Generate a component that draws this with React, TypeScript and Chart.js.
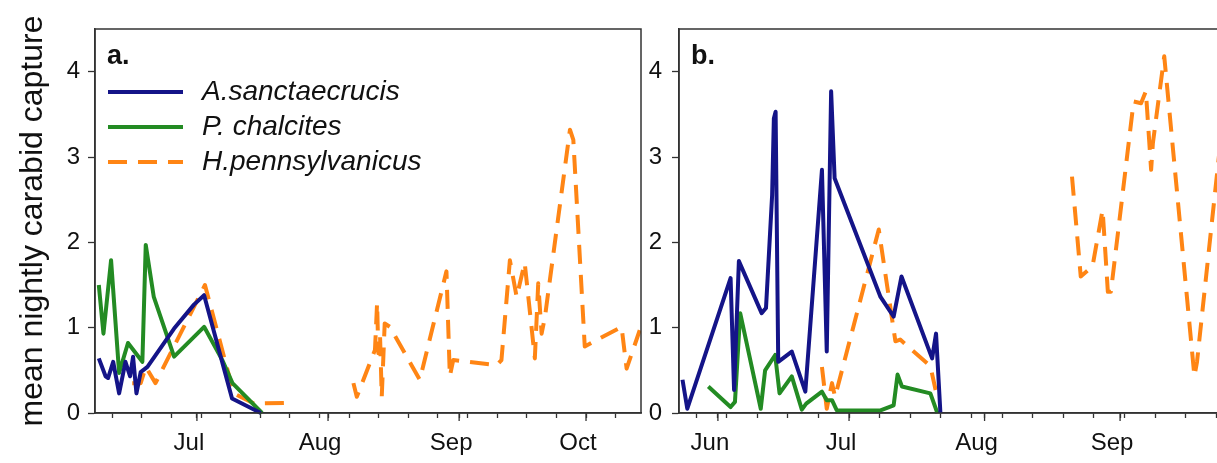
import React, { useEffect, useRef } from "react";
import { Chart, registerables } from "chart.js";

Chart.register(...registerables);

// x values are day numbers counted from 1 June (= 0)
const seriesNames = ["A.sanctaecrucis", "P. chalcites", "H.pennsylvanicus"];
const seriesColors = ["#141488", "#238b23", "#ff8514"];
const yTitle = "mean nightly carabid capture";
const yTickValues = [0, 1, 2, 3, 4];

// ---- panel a ----
const aMonthLabels = ["Jul", "Aug", "Sep", "Oct"];
const aMonthDays = [30, 61, 92, 122];
const aWeekDays = [10, 17, 24, 31, 38, 45, 52, 59, 66, 73, 80, 87, 94, 101, 108, 115, 122, 129];

const aBlueDays = [6.8, 8.4, 9.0, 10.2, 11.6, 13.1, 14.2, 14.9, 15.7, 16.7, 18.3, 24.6, 29.3, 31.7, 38.3, 45.1];
const aBlueVals = [0.64, 0.43, 0.41, 0.6, 0.23, 0.6, 0.43, 0.66, 0.23, 0.48, 0.54, 0.99, 1.27, 1.38, 0.17, 0.0];

const aGreenDays = [6.8, 7.9, 9.7, 11.6, 13.7, 17.1, 17.9, 19.8, 24.6, 31.7, 36.0, 38.4, 45.4];
const aGreenVals = [1.5, 0.93, 1.79, 0.47, 0.82, 0.6, 1.97, 1.36, 0.66, 1.01, 0.62, 0.35, 0.0];

const aOrangeDays = [14.7, 16.7, 17.9, 20.2, 31.9, 38.7, 43.5, 52.5, 60, 67.0, 67.8, 72.1, 72.6, 72.9, 73.3, 73.7, 74.4, 75.6, 82.7, 89.0, 89.8, 90.6, 100.9, 102.0, 104.0, 105.6, 107.5, 109.9, 110.7, 111.5, 112.3, 118.2, 119.0, 121.7, 130.4, 131.6, 134.7];
const aOrangeVals = [0.35, 0.35, 0.54, 0.35, 1.5, 0.23, 0.11, 0.12, null, 0.35, 0.19, 0.74, 1.29, 0.7, 0.9, 0.19, 1.05, 1.01, 0.39, 1.66, 0.43, 0.62, 0.56, 0.62, 1.79, 1.36, 1.76, 0.64, 1.52, 0.93, 1.13, 3.32, 3.2, 0.78, 1.01, 0.52, 0.97];

// ---- panel b ----
const bMonthLabels = ["Jun", "Jul", "Aug", "Sep"];
const bMonthDays = [0, 30, 61, 92];
const bWeekDays = [-5, 2, 9, 16, 23, 30, 37, 44, 51, 58, 65, 72, 79, 86, 93, 100, 107, 114];

const bBlueDays = [-8.1, -7.0, 2.9, 3.7, 4.8, 10.0, 11.0, 12.4, 12.8, 13.2, 13.8, 16.9, 20.0, 23.8, 24.9, 25.9, 26.7, 37.2, 40.2, 42.0, 49.0, 49.9, 50.9];
const bBlueVals = [0.39, 0.05, 1.58, 0.27, 1.78, 1.17, 1.23, 2.55, 3.45, 3.53, 0.6, 0.72, 0.25, 2.85, 0.72, 3.77, 2.75, 1.36, 1.13, 1.6, 0.64, 0.93, 0.0];

const bGreenDays = [-2.2, 2.9, 3.9, 5.1, 9.8, 10.8, 13.1, 14.1, 16.9, 19.2, 20.2, 23.8, 24.9, 26.1, 27.2, 37.2, 40.2, 41.1, 42.1, 48.6, 50.2];
const bGreenVals = [0.31, 0.07, 0.13, 1.17, 0.05, 0.5, 0.68, 0.23, 0.43, 0.04, 0.11, 0.25, 0.15, 0.15, 0.03, 0.03, 0.09, 0.45, 0.31, 0.23, 0.0];

const bOrangeDays = [23.8, 24.9, 26.1, 26.8, 36.8, 40.6, 41.7, 48.6, 49.8, 65, 81.0, 83.0, 85.7, 88.0, 88.4, 89.2, 89.9, 95.1, 96.8, 97.9, 99.1, 99.5, 102.1, 109.0, 109.6, 114.9];
const bOrangeVals = [0.54, 0.05, 0.35, 0.19, 2.15, 0.84, 0.86, 0.55, 0.27, null, 2.77, 1.6, 1.72, 2.38, 2.07, 1.42, 1.42, 3.65, 3.63, 3.77, 2.85, 3.16, 4.18, 0.43, 0.6, 3.15];

const FONT = '"Liberation Sans", Arial, Helvetica, sans-serif';
const FRAME = "#333333";
const TEXT = "#111111";

function pts(days: number[], vals: (number | null)[]) {
  return days.map((d, i) => ({ x: d, y: vals[i] }));
}

function makeDatasets(blue: any[], green: any[], orange: any[]) {
  const base = {
    pointRadius: 0,
    borderWidth: 4,
    tension: 0,
    spanGaps: false,
    borderJoinStyle: "round" as const,
    clip: { left: 0, top: 0, right: 0, bottom: 6 },
  };
  return [
    { ...base, label: seriesNames[0], data: blue, borderColor: seriesColors[0], backgroundColor: seriesColors[0] },
    { ...base, label: seriesNames[1], data: green, borderColor: seriesColors[1], backgroundColor: seriesColors[1] },
    { ...base, label: seriesNames[2], data: orange, borderColor: seriesColors[2], backgroundColor: seriesColors[2], borderDash: [19, 11] },
  ];
}

const framePlugin = {
  id: "frame",
  afterDraw(chart: any, _args: any, opts: any) {
    const { ctx, chartArea } = chart;
    ctx.save();
    ctx.strokeStyle = FRAME;
    ctx.lineWidth = 1.5;
    ctx.strokeRect(chartArea.left, chartArea.top, chartArea.right - chartArea.left, chartArea.bottom - chartArea.top);
    // longer tick marks at month starts
    const xs = chart.scales.x;
    const days: number[] = (opts && opts.majorDays) || [];
    ctx.lineWidth = 1.3;
    days.forEach((d) => {
      const px = xs.getPixelForValue(d);
      ctx.beginPath();
      ctx.moveTo(px, chartArea.bottom);
      ctx.lineTo(px, chartArea.bottom + 8);
      ctx.stroke();
    });
    ctx.restore();
  },
};

const panelLabelPlugin = {
  id: "panelLabel",
  afterDraw(chart: any, _args: any, opts: any) {
    if (!opts || !opts.text) return;
    const { ctx, chartArea } = chart;
    ctx.save();
    ctx.fillStyle = TEXT;
    ctx.font = `bold 27px ${FONT}`;
    ctx.textBaseline = "alphabetic";
    ctx.textAlign = "left";
    ctx.fillText(opts.text, chartArea.left + 12, chartArea.top + 35);
    ctx.restore();
  },
};

const legendPlugin = {
  id: "insideLegend",
  afterDraw(chart: any, _args: any, opts: any) {
    if (!opts || !opts.show) return;
    const { ctx, chartArea } = chart;
    chart.data.datasets.forEach((ds: any, i: number) => {
      const y = chartArea.top + 63 + i * 35;
      const x0 = chartArea.left + 13;
      ctx.save();
      ctx.strokeStyle = ds.borderColor;
      ctx.lineWidth = ds.borderWidth;
      ctx.setLineDash(ds.borderDash || []);
      ctx.beginPath();
      ctx.moveTo(x0, y);
      ctx.lineTo(x0 + 75, y);
      ctx.stroke();
      ctx.setLineDash([]);
      ctx.fillStyle = TEXT;
      ctx.font = `italic 28px ${FONT}`;
      ctx.textBaseline = "middle";
      ctx.textAlign = "left";
      ctx.fillText(ds.label, chartArea.left + 107, y);
      ctx.restore();
    });
  },
};

type PanelCfg = {
  datasets: any[];
  min: number;
  max: number;
  weekDays: number[];
  monthDays: number[];
  monthLabels: string[];
  yWidth: number;
  yPad: number;
  padRight: number;
  showTitle: boolean;
  label: string;
  legend: boolean;
};

function makeConfig(cfg: PanelCfg): any {
  const tickSet = Array.from(new Set([...cfg.weekDays, ...cfg.monthDays])).sort((p, q) => p - q);
  return {
    type: "line",
    data: { datasets: cfg.datasets },
    plugins: [framePlugin, panelLabelPlugin, legendPlugin],
    options: {
      animation: false,
      responsive: false,
      maintainAspectRatio: false,
      layout: { padding: { top: 29, right: cfg.padRight, left: 0, bottom: 0 } },
      plugins: {
        legend: { display: false },
        tooltip: { enabled: false },
        panelLabel: { text: cfg.label },
        insideLegend: { show: cfg.legend },
        frame: { majorDays: cfg.monthDays },
      },
      scales: {
        x: {
          type: "linear",
          min: cfg.min,
          max: cfg.max,
          afterBuildTicks: (s: any) => {
            s.ticks = tickSet.map((v) => ({ value: v }));
          },
          afterFit: (s: any) => {
            s.height = 50;
          },
          grid: { drawOnChartArea: false, drawTicks: true, tickLength: 5, tickColor: FRAME, tickWidth: 1.3 },
          border: { display: true, color: FRAME, width: 1.5 },
          ticks: {
            autoSkip: false,
            maxRotation: 0,
            minRotation: 0,
            padding: 11,
            labelOffset: -8,
            color: TEXT,
            font: { family: FONT, size: 24 },
            callback: (v: any) => {
              const k = cfg.monthDays.indexOf(Number(v));
              return k >= 0 ? cfg.monthLabels[k] : "";
            },
          },
        },
        y: {
          type: "linear",
          min: 0,
          max: 4.5,
          afterBuildTicks: (s: any) => {
            s.ticks = yTickValues.map((v) => ({ value: v }));
          },
          afterFit: (s: any) => {
            s.width = cfg.yWidth;
          },
          grid: { drawOnChartArea: false, drawTicks: true, tickLength: 7, tickColor: FRAME, tickWidth: 1.3 },
          border: { display: true, color: FRAME, width: 1.5 },
          ticks: {
            padding: cfg.yPad,
            color: TEXT,
            font: { family: FONT, size: 24 },
            callback: (v: any) => String(v),
          },
          title: {
            display: cfg.showTitle,
            text: yTitle,
            color: TEXT,
            font: { family: FONT, size: 32, lineHeight: 1.2 },
            padding: { top: 14, bottom: 0 },
          },
        },
      },
    },
  };
}

function Panel(props: { cfg: PanelCfg; left: number; width: number }) {
  const ref = useRef<HTMLCanvasElement | null>(null);
  useEffect(() => {
    if (!ref.current) return;
    const chart = new Chart(ref.current, makeConfig(props.cfg));
    return () => chart.destroy();
  }, []);
  return (
    <canvas
      ref={ref}
      width={props.width}
      height={463}
      style={{ position: "absolute", left: props.left, top: 0, width: props.width, height: 463 }}
    />
  );
}

export default function App() {
  const cfgA: PanelCfg = {
    datasets: makeDatasets(pts(aBlueDays, aBlueVals), pts(aGreenDays, aGreenVals), pts(aOrangeDays, aOrangeVals)),
    min: 5.9,
    max: 135,
    weekDays: aWeekDays,
    monthDays: aMonthDays,
    monthLabels: aMonthLabels,
    yWidth: 95,
    yPad: 8,
    padRight: 9,
    showTitle: true,
    label: "a.",
    legend: true,
  };
  const cfgB: PanelCfg = {
    datasets: makeDatasets(pts(bBlueDays, bBlueVals), pts(bGreenDays, bGreenVals), pts(bOrangeDays, bOrangeVals)),
    min: -8.9,
    max: 116,
    weekDays: bWeekDays,
    monthDays: bMonthDays,
    monthLabels: bMonthLabels,
    yWidth: 79,
    yPad: 10,
    padRight: 15,
    showTitle: false,
    label: "b.",
    legend: false,
  };
  return (
    <div
      style={{
        position: "fixed",
        left: 0,
        top: 0,
        width: 1217,
        height: 463,
        overflow: "hidden",
        background: "#ffffff",
      }}
    >
      <Panel cfg={cfgA} left={0} width={650} />
      <Panel cfg={cfgB} left={600} width={640} />
    </div>
  );
}
